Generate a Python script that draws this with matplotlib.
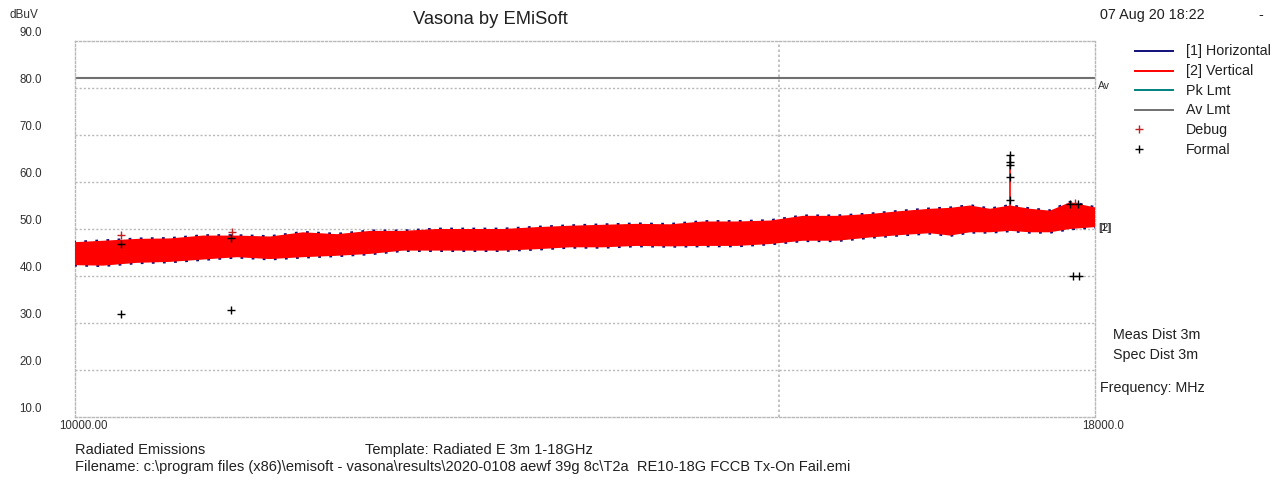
import matplotlib
matplotlib.use('Agg')
import matplotlib.pyplot as plt
from matplotlib.lines import Line2D
from matplotlib.transforms import offset_copy

plt.rcParams['font.family'] = ['Liberation Sans', 'DejaVu Sans']

# trace envelopes (MHz, dBuV)
freq = [10000, 10163, 10364, 10563, 10766, 10979, 11189, 11404, 11630, 11853,
        12081, 12320, 12556, 12797, 13050, 13301, 13556, 13824, 14090, 14360,
        14644, 14926, 15212, 15513, 15812, 16087, 16367, 16557, 16749, 16943,
        17140, 17339, 17540, 17743, 18000]
vert_top = [47.2, 47.5, 47.9, 48.0, 48.6, 48.6, 48.4, 49.3, 48.9, 49.6,
            49.6, 50.0, 50.0, 50.0, 50.4, 50.7, 50.9, 51.1, 51.0, 51.6,
            51.6, 51.8, 52.8, 52.8, 53.2, 53.8, 54.3, 54.5, 55.0, 54.3,
            55.0, 54.3, 53.9, 55.7, 54.6]
vert_low = [42.3, 42.2, 42.8, 43.0, 43.5, 44.0, 43.6, 44.0, 44.3, 44.7,
            45.4, 45.4, 45.4, 45.4, 45.7, 46.1, 46.1, 46.4, 46.3, 46.4,
            46.4, 46.8, 47.5, 47.5, 48.2, 48.7, 49.1, 48.6, 49.3, 49.3,
            49.6, 49.3, 49.3, 50.0, 50.4]
spike_freq = 17140
spike_peak = 65.7
spike_base = 55.0

av_limit = 82.1

debug_f = [10269, 10950, 17790]
debug_db = [48.7, 49.4, 55.6]
formal_f = [10269, 10269, 10940, 10940, 17140, 17140, 17140, 17140, 17140,
            17740, 17820, 17770, 17832]
formal_db = [46.8, 31.9, 48.0, 32.8, 65.7, 64.3, 63.7, 61.1, 56.2,
             55.3, 55.3, 39.9, 39.9]

y_ticks = [10, 20, 30, 40, 50, 60, 70, 80, 90]
y_labels = ['10.0', '20.0', '30.0', '40.0', '50.0', '60.0', '70.0', '80.0', '90.0']
x_ticks = [10000, 18000]
x_labels = ['10000.00', '18000.0']

navy = '#10107a'
red = '#ff0000'
grid_c = '#b8b8b8'
txt_c = '#303030'
dark = '#202020'

fig = plt.figure(figsize=(12.76, 4.81), dpi=100)
ax = fig.add_axes([75/1276, 1 - 418/481, 1020/1276, 376/481])

ax.set_xscale('log')
ax.set_xlim(10000, 18000)
ax.set_ylim(10, 90)
ax.set_xticks([])
ax.set_yticks([])
ax.minorticks_off()

# grid
for y in y_ticks[1:-1]:
    ax.axhline(y, color=grid_c, lw=1, ls=(0, (1.5, 1.5)), zorder=1)
ax.axvline(15000, color=grid_c, lw=1.2, ls=(0, (1.5, 1.5)), zorder=1)
for s in ax.spines.values():
    s.set_color(grid_c)
    s.set_linestyle((0, (1.5, 1.5)))
    s.set_linewidth(1)

# limit line
ax.axhline(av_limit, color='#707070', lw=1.5, zorder=2)
ax.text(1.003, (av_limit - 1.5 - 10) / 80, 'Av', transform=ax.transAxes,
        fontsize=7.5, color=txt_c, va='center', ha='left')

# traces
ax.fill_between(freq, vert_low, vert_top, facecolor='none', edgecolor=navy,
                lw=2.0, ls=(0, (1, 3)), zorder=3)
ax.fill_between(freq, vert_low, vert_top, facecolor=red, edgecolor='none',
                lw=0, zorder=4)
ax.vlines(spike_freq, spike_base, spike_peak, color=red, lw=1.2, zorder=4)

ax.scatter(debug_f, debug_db, marker='+', s=30, color='#c02020', lw=1, zorder=6)
ax.scatter(formal_f, formal_db, marker='+', s=30, color='black', lw=1, zorder=7)

ax.text(1.003, (50.4 - 10) / 80, '[1]', transform=ax.transAxes, fontsize=8,
        color=txt_c, va='center', ha='left')
ax.text(1.004, (50.4 - 10) / 80, '[2]', transform=ax.transAxes, fontsize=8,
        color=txt_c, va='center', ha='left')

# tick labels, drawn the way the analyser does: above the grid line
ytrans = offset_copy(ax.get_yaxis_transform(), fig=fig, x=-33, y=9, units='dots')
for v, lab in zip(y_ticks, y_labels):
    ax.text(0, v, lab, transform=ytrans, ha='right', va='center',
            fontsize=8.3, color=txt_c)
xtrans = offset_copy(ax.get_xaxis_transform(), fig=fig, x=8, y=-2, units='dots')
for v, lab in zip(x_ticks, x_labels):
    ax.text(v, 0, lab, transform=xtrans, ha='center', va='top',
            fontsize=8.3, color=txt_c)

# header
fig.text(10/1276, 1 - 15/481, 'dBuV', fontsize=8.5, color=txt_c, va='center')
fig.text(490/1276, 1 - 20/481, 'Vasona by EMiSoft', fontsize=13.2, ha='center',
         va='center', color=dark)
fig.text(1100/1276, 1 - 15/481, '07 Aug 20 18:22', fontsize=10.4, va='center',
         color=dark)
fig.text(1258/1276, 1 - 15/481, '-', fontsize=10.4, va='center', color=dark)

# legend
leg_rows = [('[1] Horizontal', navy, 'line'), ('[2] Vertical', red, 'line'),
            ('Pk Lmt', '#008080', 'line'), ('Av Lmt', '#707070', 'line'),
            ('Debug', '#c02020', 'plus'), ('Formal', 'black', 'plus')]
ys = [51.5, 71.5, 91, 110.5, 130, 150]
for (name, c, kind), yp in zip(leg_rows, ys):
    yf = 1 - yp / 481
    if kind == 'line':
        fig.add_artist(Line2D([1135/1276, 1173/1276], [yf, yf], color=c, lw=1.4))
    else:
        fig.add_artist(Line2D([1139/1276], [yf], marker='+', ms=6, mew=1,
                              color=c, ls='none'))
    fig.text(1186/1276, yf, name, fontsize=10.3, va='center', color=dark)

fig.text(1113/1276, 1 - 335/481, 'Meas Dist 3m', fontsize=10.3, va='center', color=dark)
fig.text(1113/1276, 1 - 355/481, 'Spec Dist 3m', fontsize=10.3, va='center', color=dark)
fig.text(1100/1276, 1 - 388/481, 'Frequency: MHz', fontsize=10.3, va='center', color=dark)

# footer
fig.text(75/1276, 1 - 450/481, 'Radiated Emissions', fontsize=10.5, va='center', color=dark)
fig.text(365/1276, 1 - 450/481, 'Template: Radiated E 3m 1-18GHz', fontsize=10.5,
         va='center', color=dark)
fig.text(75/1276, 1 - 467/481,
         'Filename: c:\\program files (x86)\\emisoft - vasona\\results\\2020-0108 aewf 39g 8c\\T2a  RE10-18G FCCB Tx-On Fail.emi',
         fontsize=10.5, va='center', color=dark)

fig.savefig('out.png', dpi=100)
